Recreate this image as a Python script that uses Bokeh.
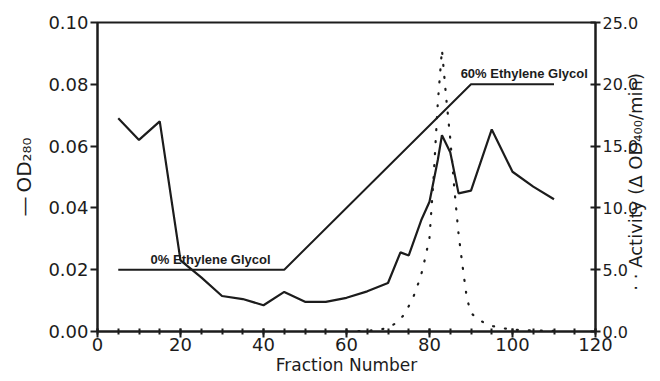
import math
from bokeh.plotting import figure
from bokeh.models import (Range1d, LinearAxis, FixedTicker, NumeralTickFormatter,
                          ColumnDataSource, Label)
from bokeh.embed import file_html
from bokeh.resources import INLINE

# ---- data ----
od_x = [5, 10, 15, 20, 25, 30, 35, 40, 45, 50, 55, 60, 65, 70, 73, 75, 78, 80,
        82, 83, 85, 87, 90, 95, 100, 105, 110]
od_y = [0.069, 0.062, 0.068, 0.023, 0.0175, 0.0115, 0.0105, 0.0085, 0.0128,
        0.0096, 0.0096, 0.0109, 0.013, 0.0157, 0.0256, 0.0246, 0.036, 0.042,
        0.0555, 0.0635, 0.058, 0.0447, 0.0456, 0.0654, 0.0517, 0.0469, 0.0428]

act_x = [60, 65, 68, 70, 72, 74, 76, 77, 78, 79, 80, 81, 82, 83, 84, 85, 86,
         87, 88, 89, 90, 92, 95, 98, 100, 105, 110]
act_y = [0.0, 0.05, 0.15, 0.3, 0.7, 1.4, 2.7, 3.6, 4.6, 6.0, 7.6, 12.5, 18.5,
         22.8, 19.0, 15.6, 11.5, 7.9, 5.2, 2.7, 1.5, 0.9, 0.45, 0.25, 0.15,
         0.08, 0.05]

grad_x = [5, 45, 90, 110]
grad_y = [0.02, 0.02, 0.08, 0.08]

x_ticks = [0, 20, 40, 60, 80, 100, 120]
x_minor = [v for v in range(0, 121, 5)]
left_ticks = [0.0, 0.02, 0.04, 0.06, 0.08, 0.10]
right_ticks = [0, 5, 10, 15, 20, 25]

left_title = "\u2014\u2009OD\u2082\u2088\u2080"
right_title = "\u00b7 \u00b7 Activity (\u0394 OD\u2084\u2080\u2080/min)"
right_title_start = 3.3   # activity value where the right title begins

INK = "#1c1c1c"
FONT = "DejaVu Sans"

p = figure(width=660, height=381, output_backend="svg", toolbar_location=None,
           x_range=Range1d(0, 120), y_range=Range1d(0, 0.1),
           min_border_left=97, min_border_right=65, min_border_top=22,
           min_border_bottom=50)
p.background_fill_color = "white"
p.border_fill_color = "white"
p.outline_line_color = INK
p.outline_line_width = 2
p.xgrid.visible = False
p.ygrid.visible = False

p.extra_y_ranges = {"act": Range1d(0, 25)}

# bottom axis
xa = p.xaxis[0]
xa.ticker = FixedTicker(ticks=x_ticks, minor_ticks=x_minor)
xa.axis_label = "Fraction Number"
xa.axis_label_text_font = FONT
xa.axis_label_text_font_size = "17px"
xa.axis_label_text_font_style = "normal"
xa.axis_label_text_color = INK
xa.axis_label_standoff = 1
xa.major_label_text_font = FONT
xa.major_label_text_font_size = "18px"
xa.major_label_text_color = INK
xa.major_label_standoff = 0
xa.major_tick_in = 3
xa.major_tick_out = 6
xa.minor_tick_in = 3
xa.minor_tick_out = 3
xa.axis_line_color = INK
xa.axis_line_width = 2
xa.major_tick_line_color = INK
xa.major_tick_line_width = 2
xa.minor_tick_line_color = INK
xa.minor_tick_line_width = 2

# left axis
ya = p.yaxis[0]
ya.ticker = FixedTicker(ticks=left_ticks, minor_ticks=[])
ya.formatter = NumeralTickFormatter(format="0.00")
ya.major_label_text_font = FONT
ya.major_label_text_font_size = "18px"
ya.major_label_text_color = INK
ya.major_label_standoff = 2
ya.major_tick_in = 0
ya.major_tick_out = 7
ya.axis_line_color = INK
ya.axis_line_width = 2
ya.major_tick_line_color = INK
ya.major_tick_line_width = 2
ya.axis_label = left_title
ya.axis_label_text_font = FONT
ya.axis_label_text_font_size = "20px"
ya.axis_label_text_font_style = "normal"
ya.axis_label_text_color = INK
ya.axis_label_standoff = 9

# right axis (ticks)
ra = LinearAxis(y_range_name="act")
ra.ticker = FixedTicker(ticks=right_ticks, minor_ticks=[])
ra.formatter = NumeralTickFormatter(format="0.0")
ra.major_label_text_font = FONT
ra.major_label_text_font_size = "16px"
ra.major_label_text_color = INK
ra.major_label_standoff = 2
ra.major_tick_in = 5
ra.major_tick_out = 5
ra.axis_line_color = INK
ra.axis_line_width = 2
ra.major_tick_line_color = INK
ra.major_tick_line_width = 2
p.add_layout(ra, "right")

# right axis title: one rotated label that starts at a fixed activity value
ta = LinearAxis(y_range_name="act")
ta.ticker = FixedTicker(ticks=[right_title_start], minor_ticks=[])
ta.major_label_overrides = {right_title_start: right_title}
ta.major_label_orientation = math.pi / 2
ta.major_label_text_font = FONT
ta.major_label_text_font_size = "18px"
ta.major_label_text_color = INK
ta.major_label_standoff = -6
ta.major_tick_in = 0
ta.major_tick_out = 0
ta.axis_line_color = None
ta.major_tick_line_color = None
ta.minor_tick_line_color = None
p.add_layout(ta, "right")

# data lines
p.line(x="x", y="y", source=ColumnDataSource(dict(x=grad_x, y=grad_y)),
       line_color=INK, line_width=2)
p.line(x="x", y="y", source=ColumnDataSource(dict(x=od_x, y=od_y)),
       line_color=INK, line_width=2.2)
p.line(x="x", y="y", source=ColumnDataSource(dict(x=act_x, y=act_y)),
       y_range_name="act", line_color=INK, line_width=2.2,
       line_dash="1 11", line_cap="round")

# gradient annotations
p.add_layout(Label(x=12.8, y=0.02, text="0% Ethylene Glycol", y_offset=3,
                   text_font="Liberation Sans", text_font_style="bold",
                   text_font_size="13px", text_color=INK,
                   text_baseline="bottom", text_align="left"))
p.add_layout(Label(x=87.5, y=0.08, text="60% Ethylene Glycol", y_offset=3,
                   text_font="Liberation Sans", text_font_style="bold",
                   text_font_size="13px", text_color=INK,
                   text_baseline="bottom", text_align="left"))

open("out.html", "w").write(file_html(p, INLINE))
